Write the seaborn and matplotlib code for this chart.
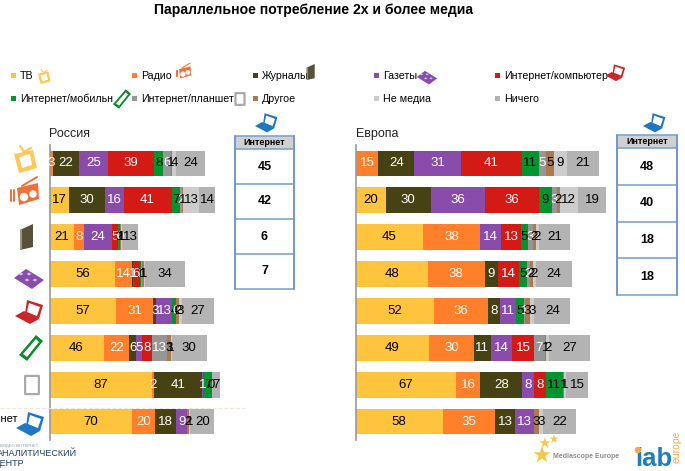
import numpy as np
import matplotlib
matplotlib.use("Agg")
import matplotlib.pyplot as plt
from matplotlib.patches import Rectangle, Polygon, Circle, FancyBboxPatch
import seaborn as sns

sns.set_theme(style="white")
plt.rcParams["font.family"] = ["Liberation Sans", "DejaVu Sans"]

W, H = 685, 471
_ = np.nan   # segment with no printed number

# ── Data: one list per bar, in series order ──────────────────
series = ["ТВ", "Радио", "Журналы", "Газеты", "Интернет/компьютер",
          "Интернет/мобильный", "Интернет/планшет", "Другое", "Не медиа", "Ничего"]
colors = ["#FFC43D", "#FF7F2A", "#474213", "#8A4CAB", "#D31A14",
          "#00952F", "#969696", "#AD7A4E", "#CCCCCC", "#B3B3B3"]
label_colors = ["black", "white", "white", "white", "white",
                "black", "white", "black", "black", "black"]
rows = ["tv", "radio", "magazines", "papers", "pc", "mobile", "tablet", "internet"]

ru_tv        = [_, 3, 22, 25, 39, 8, 6, 1, 4, 24]
ru_radio     = [17, _, 30, 16, 41, 7, 2, 1, 13, 14]
ru_magazines = [21, 8, _, 24, 5, 2, 0, 1, 1, 13]
ru_papers    = [56, 14, 1, _, 6, 1, 1, 1, 1, 34]
ru_pc        = [57, 31, 3, 13, _, 4, 0, 2, 3, 27]
ru_mobile    = [46, 22, 6, 5, 8, _, 13, 3, 1, 30]
ru_tablet    = [87, 2, 41, 1, _, 7, _, _, 0, 7]
ru_internet  = [70, 20, 18, 9, _, _, _, 2, 1, 20]

eu_tv        = [_, 15, 24, 31, 41, 11, 5, 5, 9, 21]
eu_radio     = [20, _, 30, 36, 36, 9, 3, 2, 12, 19]
eu_magazines = [45, 38, _, 14, 13, 5, 3, 2, 2, 21]
eu_papers    = [48, 38, 9, _, 14, 5, 2, 2, 2, 24]
eu_pc        = [52, 36, 8, 11, _, 5, 1, 3, 3, 24]
eu_mobile    = [49, 30, 11, 14, 15, _, 7, 1, 2, 27]
eu_tablet    = [67, 16, 28, 8, 8, 11, _, 1, 1, 15]
eu_internet  = [58, 35, 13, 13, _, _, _, 3, 3, 22]

ru_table = ["45", "42", "6", "7"]
eu_table = ["48", "40", "18", "18"]

russia = np.array([ru_tv, ru_radio, ru_magazines, ru_papers,
                   ru_pc, ru_mobile, ru_tablet, ru_internet], dtype=float)
europe = np.array([eu_tv, eu_radio, eu_magazines, eu_papers,
                   eu_pc, eu_mobile, eu_tablet, eu_internet], dtype=float)

fig = plt.figure(figsize=(W / 100, H / 100), dpi=100, facecolor="white")


def stacked(matrix, x0, width, px_per_unit):
    ax = fig.add_axes([x0 / W, 1 - 440 / H, width / W, 295 / H])
    drawn = np.nan_to_num(matrix)
    left = np.zeros(len(rows))
    for i in range(len(series)):
        sns.barplot(x=drawn[:, i], y=rows, order=rows, orient="h", color=colors[i],
                    saturation=1, width=0.7, left=left, errorbar=None, ax=ax,
                    linewidth=0, edgecolor="none")
        labels = ["" if np.isnan(v) else f"{v:g}" for v in matrix[:, i]]
        ax.bar_label(ax.containers[-1], labels=labels, label_type="center",
                     color=label_colors[i], fontsize=9.5)
        left = left + drawn[:, i]
    ax.set_xlim(0, width / px_per_unit)
    ax.set_ylim(7.5, -0.5)
    ax.set(xlabel="", ylabel="", xticks=[], yticks=[])
    ax.patch.set_alpha(0)
    sns.despine(ax=ax, bottom=True)
    ax.spines["left"].set_color("#999999")
    ax.spines["left"].set_linewidth(1.2)
    return ax


ax_ru = stacked(russia, 49.5, 178, 1.175)
ax_eu = stacked(europe, 355.7, 258, 1.5)

# ── Everything else in pixel coordinates ─────────────────────
ov = fig.add_axes([0, 0, 1, 1], zorder=5)
ov.set_xlim(0, W)
ov.set_ylim(H, 0)
ov.axis("off")

Z = 6  # icons sit above the legend text


def poly(cx, cy, pts, s=1, **kw):
    ov.add_patch(Polygon([(cx + a * s, cy + b * s) for a, b in pts], closed=True, lw=0, zorder=Z, **kw))


def icon_tv(cx, cy, s=1):
    ov.plot([cx - 5 * s, cx - 1 * s, cx + 6 * s], [cy - 14 * s, cy - 8 * s, cy - 12 * s],
            color="#FFC95A", lw=1.6 * s, zorder=Z)
    poly(cx, cy, [(-11, -6), (8, -10), (12, 8), (-6, 13)], s, color="#FFC95A")
    poly(cx, cy, [(-6, -3), (5, -6), (7, 5), (-3, 8)], s, color="white")


def icon_radio(cx, cy, s=1):
    ov.plot([cx - 4 * s, cx + 11 * s], [cy - 9 * s, cy - 18 * s], color="#F0703A", lw=1.4 * s, zorder=Z)
    poly(cx, cy, [(-9, -7), (12, -12), (13, 4), (-7, 10)], s, color="#F0703A")
    ov.add_patch(Circle((cx - 2 * s, cy + 2 * s), 3.5 * s, color="white", zorder=Z))
    ov.add_patch(Circle((cx + 7 * s, cy - 1 * s), 3 * s, color="white", zorder=Z))
    for k in (12, 15):
        ov.plot([cx - k * s, cx - k * s], [cy - 5 * s, cy + 6 * s], color="#F0703A", lw=1.4 * s, zorder=Z)


def icon_book(cx, cy, s=1):
    poly(cx, cy, [(-7, -7), (6, -13), (6, 10), (-7, 13)], s, color="#57513A")
    poly(cx, cy, [(-7, -7), (-5, -8), (-5, 12), (-7, 13)], s, color="#9A9680")


def icon_paper(cx, cy, s=1):
    poly(cx, cy, [(-15, 0), (-3, -9), (15, 2), (3, 11)], s, color="#8A4CAB")
    for k in (-1, 1):
        for j in (-2, 1):
            poly(cx + k * 4 * s + j * 2 * s, cy + j * 2 * s,
                 [(-2.5, 0), (0, -1.5), (2.5, 0), (0, 1.5)], s, color="#D9BEE8")


def icon_laptop(cx, cy, color, s=1):
    poly(cx, cy, [(-3, -11), (13, -6), (9, 8), (-5, 3)], s, color=color)
    poly(cx, cy, [(-1, -8), (10, -4), (7, 5), (-3, 1)], s, color="white")
    poly(cx, cy, [(-15, 5), (-6, 0), (9, 8), (0, 13)], s, color=color)


def icon_phone(cx, cy, s=1):
    poly(cx, cy, [(-12, 7), (5, -13), (12, -7), (-4, 13)], s, color="#0A8A2E")
    poly(cx, cy, [(-8, 6), (5, -9), (8, -6), (-4, 9)], s, color="white")


def icon_tablet(cx, cy, s=1):
    ov.add_patch(FancyBboxPatch((cx - 6 * s, cy - 8 * s), 12 * s, 16 * s, boxstyle="round,pad=0.3",
                                fc="white", ec="#AAAAAA", lw=1.6, zorder=Z))


# row icons
icon_tv(25, 160)
icon_radio(26, 195)
icon_book(27, 237)
icon_paper(29, 278)
icon_laptop(30, 311, "#C9252B")
icon_phone(31, 348)
icon_tablet(32, 385, 1.1)
icon_laptop(31, 423, "#1F77C4")

# legend
legend_pos = [(14, 76), (135, 76), (256, 76), (377, 76), (498, 76),
              (14, 99), (135, 99), (256, 99), (377, 99), (498, 99)]
for name, col, (x, y) in zip(series, colors, legend_pos):
    ov.add_patch(Rectangle((x - 2.5, y - 3.5), 5, 5, color=col, lw=0))
    ov.text(x + 6, y, name, fontsize=7.7, va="center", color="black")

icon_tv(44, 77, 0.55)
icon_radio(184, 73, 0.55)
icon_book(311, 72, 0.62)
icon_paper(427, 77, 0.68)
icon_laptop(616, 72, "#C9252B", 0.7)
ov.add_patch(Rectangle((113, 91), 19, 17, color="white", lw=0, zorder=Z - 1))
icon_phone(122, 99, 0.75)
icon_tablet(240, 99, 0.7)
icon_laptop(267, 122, "#1F77C4", 0.8)
icon_laptop(655, 122, "#1F77C4", 0.8)

ov.text(314, 10, "Параллельное потребление 2х и более медиа", fontsize=10.1,
        fontweight="bold", ha="center", va="center", color="black")
ov.text(49, 134, "Россия", fontsize=9, va="center", color="#222222")
ov.text(356, 134, "Европа", fontsize=9, va="center", color="#222222")


def side_table(x0, x1, edges, values):
    ov.add_patch(Rectangle((x0, edges[0]), x1 - x0, edges[1] - edges[0], fc="#D0D0D0", lw=0))
    for y in edges:
        ov.plot([x0, x1], [y, y], color="#7FA5CF", lw=1.2)
    for x in (x0, x1):
        ov.plot([x, x], [edges[0], edges[-1]], color="#6F99C8", lw=1.4)
    ov.text((x0 + x1) / 2, (edges[0] + edges[1]) / 2, "Интернет", fontsize=6.5,
            fontweight="bold", ha="center", va="center", color="black")
    for i, v in enumerate(values):
        ov.text((x0 + x1) / 2, (edges[i + 1] + edges[i + 2]) / 2, v, fontsize=9,
                fontweight="bold", ha="center", va="center", color="black")


side_table(235, 294, [136, 149, 184, 219, 254, 289], ru_table)
side_table(617, 677, [135, 148, 185, 222, 258, 295], eu_table)

ov.plot([0, 245], [408, 408], color="#EEE8DC", lw=0.8, ls="--")
ov.text(18, 419, "Интернет", fontsize=8, ha="right", va="center", color="black")

# logos
ov.text(0, 446, "ВИДЕО ИНТЕРНЕТ", fontsize=3, va="center", color="#8899AA")
ov.text(-3, 454, "АНАЛИТИЧЕСКИЙ", fontsize=6.5, va="center", color="#1F3B63")
ov.text(-7, 463, "ЦЕНТР", fontsize=6.5, va="center", color="#1F3B63")
ov.scatter([542, 545, 554], [455, 443, 439], marker="*", s=[170, 70, 45], color="#F2C94C", lw=0)
ov.text(553, 457, "Mediascope Europe", fontsize=5, fontweight="bold", va="center", color="#8C8C8C")
ov.text(635, 459, "iab", fontsize=18.5, fontweight="bold", va="center", color="#1E7FC0")
ov.text(677, 447, "europe", fontsize=7.5, rotation=90, ha="center", va="center", color="#F5A94A")
ov.add_patch(Circle((638, 450), 2.6, color="#F5A94A", zorder=Z))

fig.savefig("out.png", dpi=100)
